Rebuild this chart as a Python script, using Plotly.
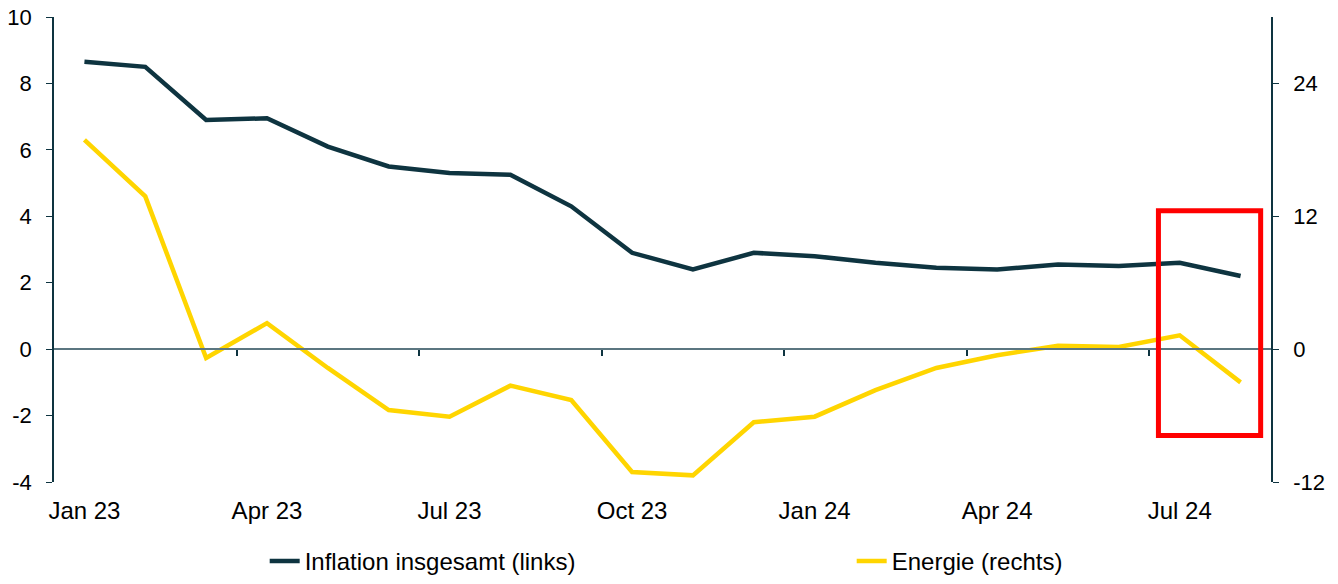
import plotly.graph_objects as go

months = ["Jan 23", "Feb 23", "Mar 23", "Apr 23", "May 23", "Jun 23", "Jul 23", "Aug 23",
          "Sep 23", "Oct 23", "Nov 23", "Dec 23", "Jan 24", "Feb 24", "Mar 24", "Apr 24",
          "May 24", "Jun 24", "Jul 24", "Aug 24"]
inflation = [8.65, 8.5, 6.9, 6.95, 6.1, 5.5, 5.3, 5.25, 4.3, 2.9, 2.4, 2.9, 2.8, 2.6,
             2.45, 2.4, 2.55, 2.5, 2.6, 2.2]
energie = [18.9, 13.8, -0.8, 2.35, -1.7, -5.5, -6.1, -3.3, -4.6, -11.1, -11.4, -6.6,
           -6.1, -3.7, -1.7, -0.55, 0.3, 0.2, 1.25, -3.0]
tick_labels = ["Jan 23", "Apr 23", "Jul 23", "Oct 23", "Jan 24", "Apr 24", "Jul 24"]
left_ticks = [-4, -2, 0, 2, 4, 6, 8, 10]
right_ticks = [-12, 0, 12, 24]

idx = list(range(len(months)))
label_pos = [months.index(t) for t in tick_labels]
minor_pos = [p + 2.5 for p in label_pos[:-1]]

DARK = "#0e3440"
YELLOW = "#ffd500"
AXIS = "#0e3440"
ZERO = "#5b7680"
FONT = "Liberation Sans, Arial, sans-serif"

fig = go.Figure()
fig.add_trace(go.Scatter(x=idx, y=inflation, mode="lines", name="Inflation insgesamt (links)",
                         line=dict(color=DARK, width=4.5), xaxis="x", yaxis="y"))
fig.add_trace(go.Scatter(x=idx, y=energie, mode="lines", name="Energie (rechts)",
                         line=dict(color=YELLOW, width=4.5), xaxis="x", yaxis="y2"))
# helper invisible trace for the zero-line axis
fig.add_trace(go.Scatter(x=[idx[0]], y=[0], mode="markers", marker=dict(opacity=0),
                         showlegend=False, hoverinfo="skip", xaxis="x2", yaxis="y"))

fig.add_shape(type="rect", xref="x", yref="y", x0=17.65, x1=19.33, y0=-2.6, y1=4.17,
              line=dict(color="#ff0000", width=5), fillcolor="rgba(0,0,0,0)")

fig.update_layout(
    width=1330, height=576,
    margin=dict(l=46, r=67, t=9, b=102, autoexpand=False),
    paper_bgcolor="white", plot_bgcolor="white",
    font=dict(family=FONT, size=22, color="black"),
    xaxis=dict(range=[-0.5, 19.5], tickvals=label_pos, ticktext=tick_labels,
               showline=False, ticks="", showgrid=False, zeroline=False, automargin=False,
               tickfont=dict(size=24), ticklabelstandoff=12, ticklabeloverflow="allow"),
    xaxis2=dict(range=[-0.5, 19.5], overlaying="x", anchor="free", position=4 / 14,
                showline=True, linecolor=ZERO, linewidth=2, ticks="outside",
                tickvals=minor_pos, ticklen=6, tickcolor=AXIS, tickwidth=1.5,
                showticklabels=False, showgrid=False, zeroline=False, automargin=False),
    yaxis=dict(range=[-4, 10], tickvals=left_ticks, ticktext=[str(v) for v in left_ticks],
               showline=True, linecolor=AXIS, linewidth=1.5,
               ticks="outside", ticklen=6, tickcolor=AXIS, showgrid=False, zeroline=False,
               ticklabelstandoff=10, automargin=False, ticklabeloverflow="allow"),
    yaxis2=dict(range=[-12, 30], tickvals=right_ticks, ticktext=[str(v) for v in right_ticks],
                overlaying="y", side="right",
                showline=True, linecolor=AXIS, linewidth=1.5, ticks="outside", ticklen=6,
                tickcolor=AXIS, showgrid=False, zeroline=False, ticklabelstandoff=10,
                automargin=False, ticklabeloverflow="allow"),
    legend=dict(orientation="h", xref="container", yref="container", x=0.193, y=-0.012,
                xanchor="left", yanchor="bottom", font=dict(size=24),
                entrywidth=542, entrywidthmode="pixels", bgcolor="rgba(0,0,0,0)"),
    showlegend=True,
)

fig.write_html("out.html")
